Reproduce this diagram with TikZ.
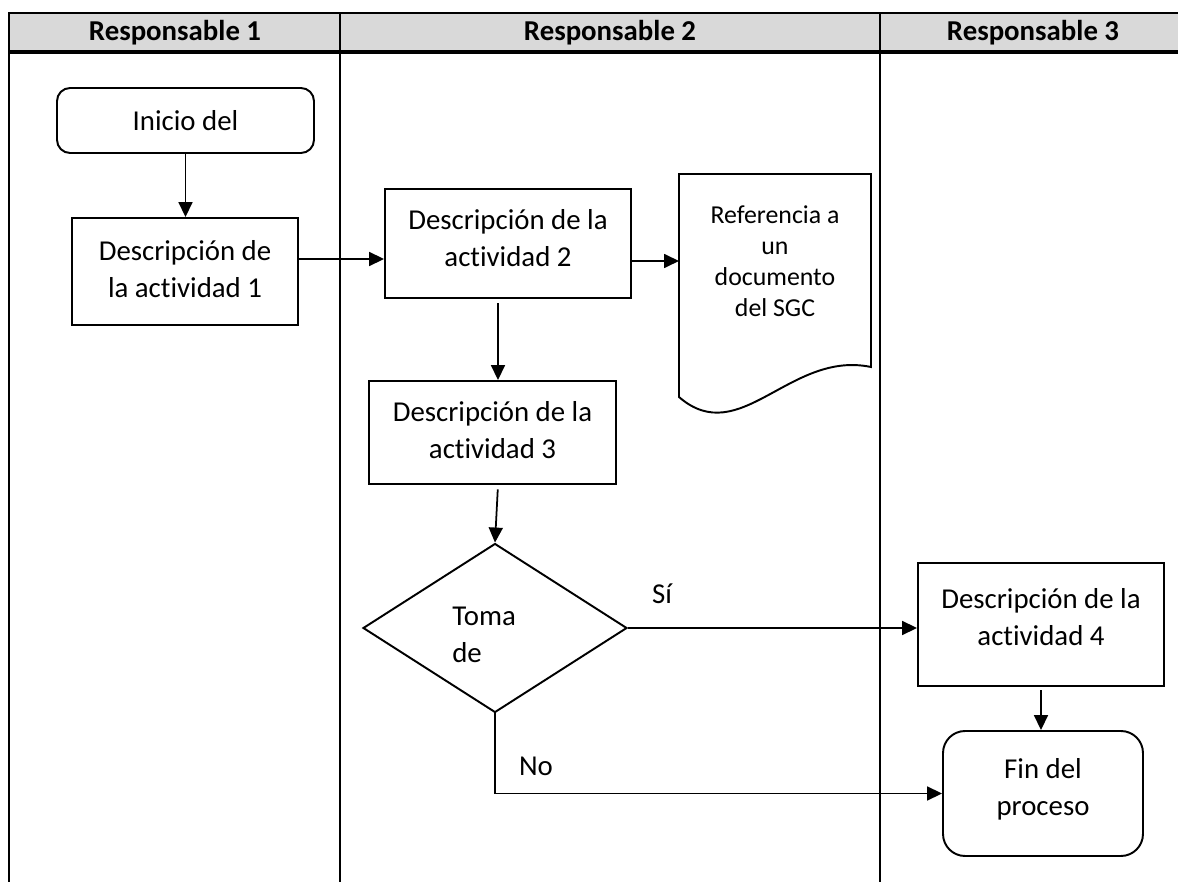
\documentclass[tikz,border=0pt]{standalone}
\usepackage{fontspec}
\setmainfont{Carlito}[Ligatures=NoCommon]
\usetikzlibrary{arrows.meta,shapes.geometric}
\definecolor{headgrey}{HTML}{D9D9D9}
\newcommand\txtbody{\fontsize{16.4pt}{21pt}\selectfont}
\newcommand\txtdoc{\fontsize{14.7pt}{17.6pt}\selectfont}
\newcommand\txthead{\bfseries\fontsize{16.4pt}{20pt}\selectfont}
% extra depth under the last line raises the text inside a fixed-size box
\newcommand\lift[1]{\rule[-#1]{0pt}{#1}}
\begin{document}
\begin{tikzpicture}[x=0.02cm,y=-0.02cm,
  every node/.style={font=\txtbody, inner sep=0pt},
  proc/.style={draw, line width=1.1pt, align=center},
  grid/.style={line width=1.1pt},
  head/.style={font=\txthead, anchor=base},
  link/.style={line width=1pt, -{Triangle[length=0.3cm,width=0.28cm]}}]
\useasboundingbox (0,0) rectangle (1178,882);

% swimlane table
\fill[headgrey] (9,13) rectangle (1178,52);
\draw[grid] (1178,13) -- (9,13) -- (9,882);
\draw[grid] (340,13) -- (340,882);
\draw[grid] (880,13) -- (880,882);
\draw[line width=2pt] (9,52) -- (1178,52);
\node[head] (h1) at (175,41) {Responsable 1};
\node[head] (h2) at (610,41) {Responsable 2};
\node[head] (h3) at (1033,41) {Responsable 3};

% process steps
\node[proc, rounded corners=0.26cm, minimum width=5.14cm, minimum height=1.30cm] (ini) at (185.5,120.5) {Inicio del};
\node[proc, minimum width=4.52cm, minimum height=2.14cm] (a1) at (185,271.5) {Descripción de\\la actividad 1\lift{3pt}};
\node[proc, minimum width=4.92cm, minimum height=2.18cm] (a2) at (508,243.5) {Descripción de la\\actividad 2\lift{6.5pt}};
\node[proc, minimum width=4.94cm, minimum height=2.06cm] (a3) at (492.5,432.5) {Descripción de la\\actividad 3\lift{3pt}};
\node[draw, diamond, line width=1.1pt, minimum width=5.28cm, minimum height=3.38cm] (dec) at (495,628) {};
\node[anchor=west, align=left] (dect) at (452,635) {Toma\\de};
\node[proc, minimum width=4.92cm, minimum height=2.46cm] (a4) at (1041,624.5) {Descripción de la\\actividad 4\lift{9pt}};
\node[proc, rounded corners=0.44cm, minimum width=4.0cm, minimum height=2.5cm] (fin) at (1043,793.5) {Fin del\\proceso\lift{7pt}};

% document symbol
\draw[line width=1.1pt] (871,367) .. controls (790,350) and (740,450) .. (679,397) -- (679,174) -- (871,174) -- cycle;
\node[align=center, font=\txtdoc] (doct) at (775,261) {Referencia a\\un\\documento\\del SGC};

% connectors
\coordinate (r12) at (0,259);
\coordinate (docin) at (679,261);
\coordinate (c23) at (498,0);
\draw[link] (ini.south) -- (ini.south |- a1.north);
\draw[link] (a1.east |- r12) -- (a2.west |- r12);
\draw[link] (a2.east |- docin) -- (docin);
\draw[link, shorten <=2.5pt] (a2.south -| c23) -- (a3.north -| c23);
\draw[link, shorten <=2.5pt] (a3.south -| c23) -- (dec.north);
\draw[link] (dec.east) -- (a4.west |- dec.east);
\draw[link, shorten <=2pt] (a4.south) -- (a4.south |- fin.north);
\draw[link] (dec.south) |- (fin.west);
\node[anchor=base] (si) at (662,603) {Sí};
\node[anchor=base] (no) at (536,775) {No};
\end{tikzpicture}
\end{document}
